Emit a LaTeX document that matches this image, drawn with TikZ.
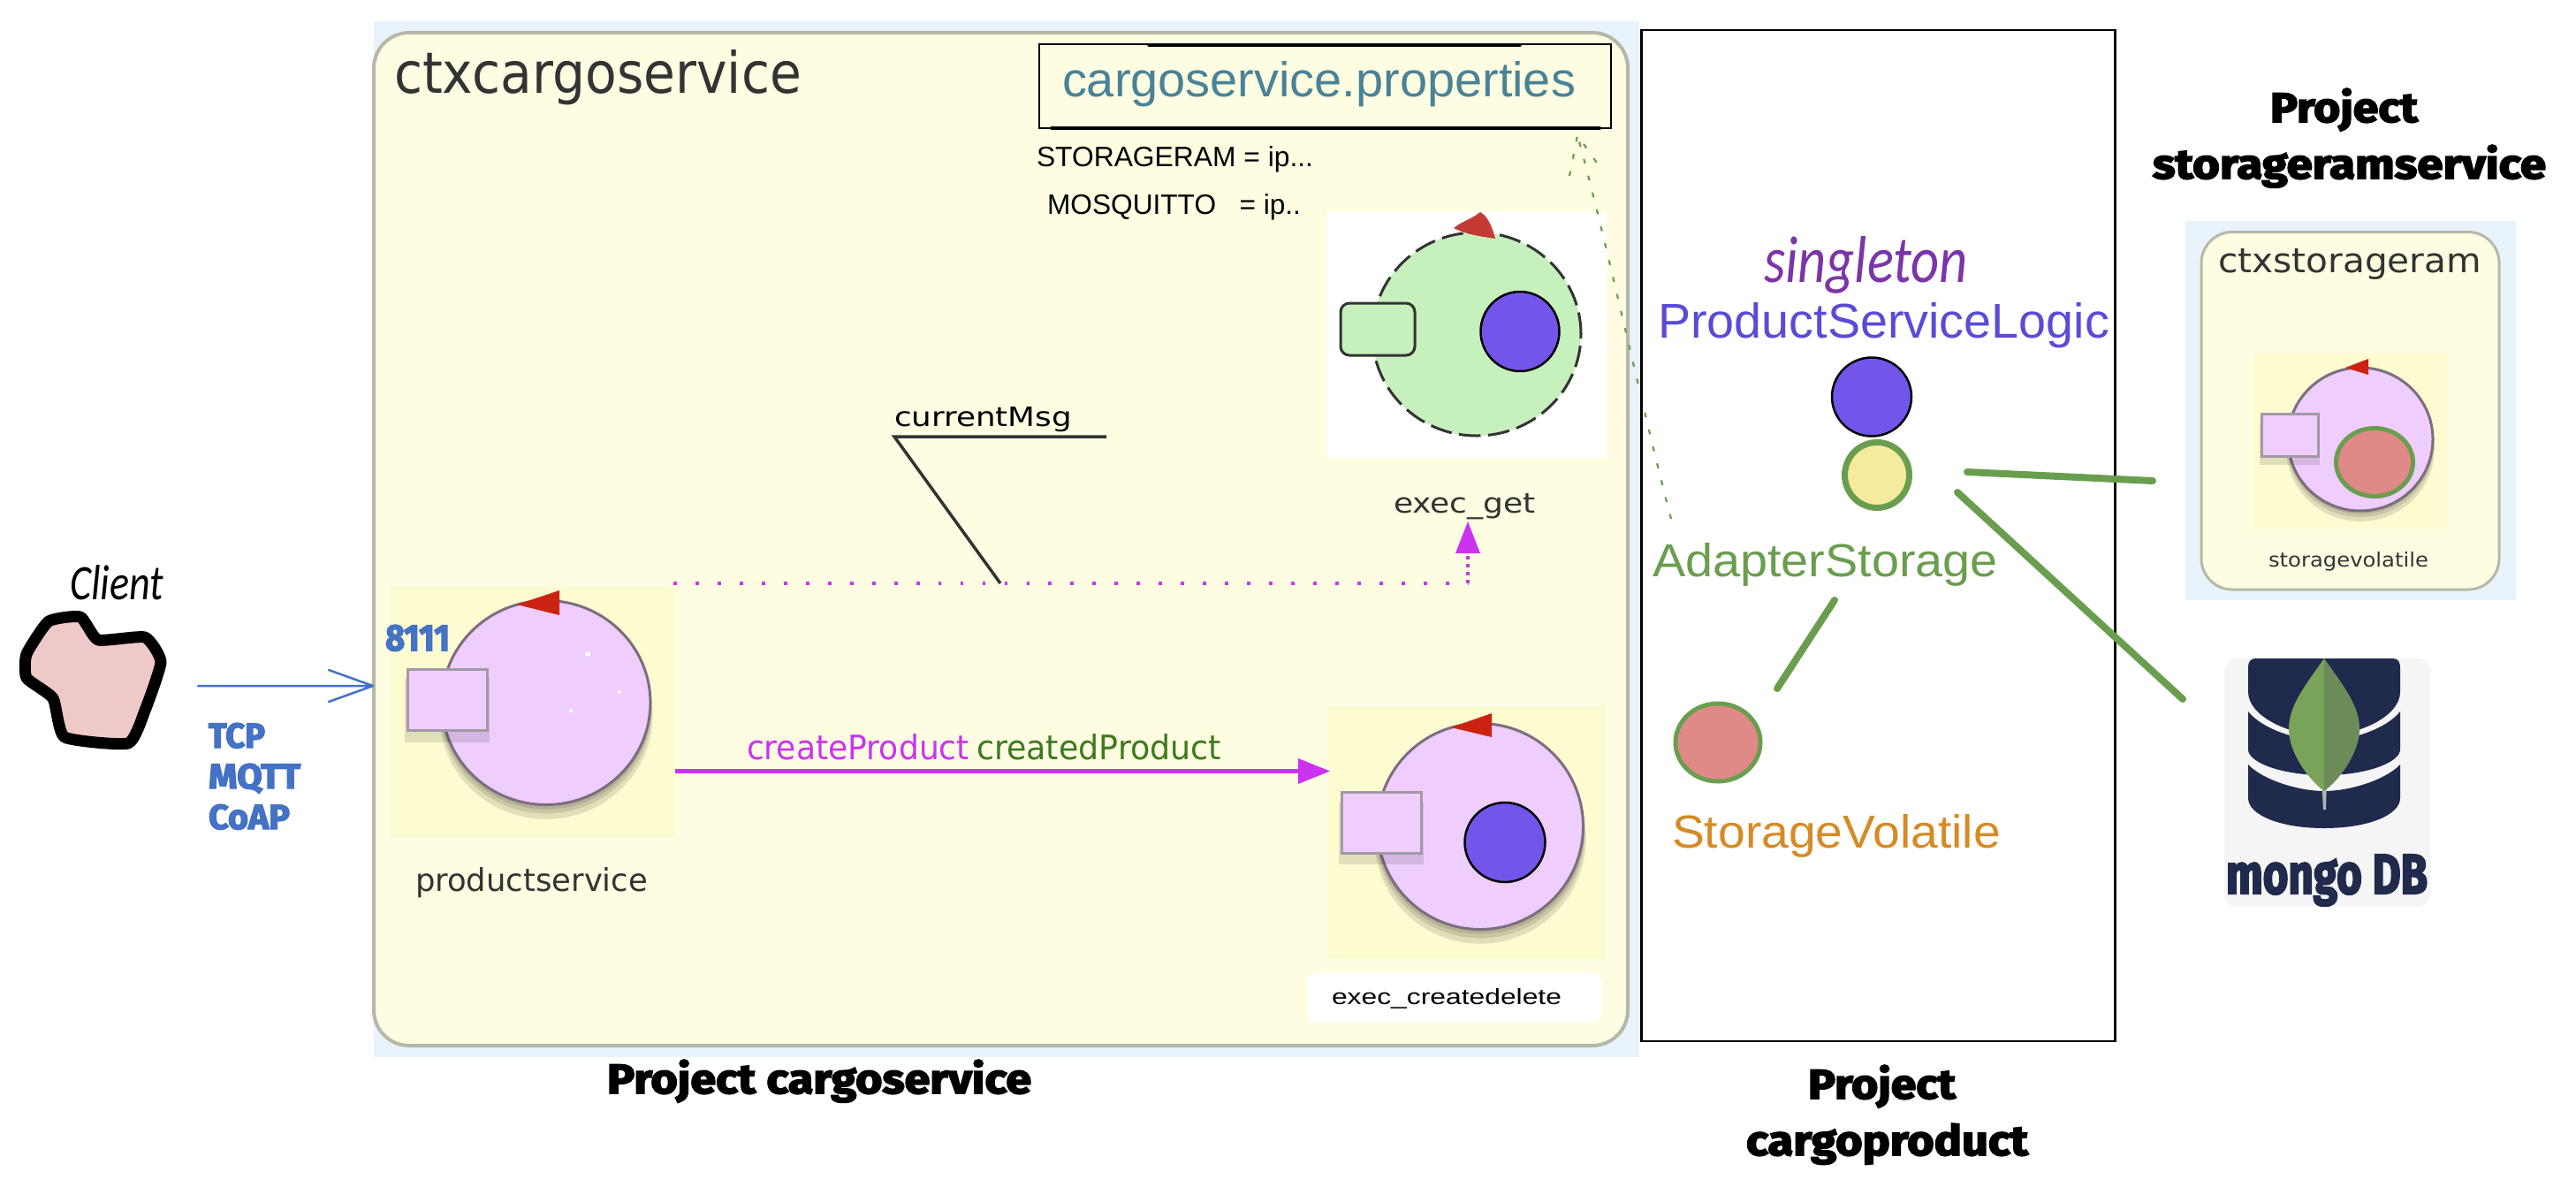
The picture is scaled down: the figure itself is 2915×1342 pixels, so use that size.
\documentclass[tikz,border=0pt]{standalone}
\usepackage{fontspec}
\usepackage{graphicx}
\usetikzlibrary{shapes.geometric,arrows.meta,calc}
\newfontfamily\ctxf{DejaVu Sans}
\newfontfamily\arialf{Liberation Sans}
\newfontfamily\titlebase[BoldFeatures={FakeBold=3.5}]{Fira Sans}
\newcommand{\titlef}{\titlebase\bfseries}
\newfontfamily\handf{Carlito}
\newdimen\pxu \pxu=0.01cm
\newcommand{\fit}[4]{\resizebox{#1\pxu}{#2\pxu}{\mbox{#3#4}}}
\definecolor{outerblue}{HTML}{E8F3FB}
\definecolor{ctxyellow}{HTML}{FEFDE2}
\definecolor{ctxedge}{HTML}{B4B9A8}
\definecolor{actorbg}{HTML}{FDFBD0}
\definecolor{actorpink}{HTML}{EFCDFC}
\definecolor{actoredge}{HTML}{7A6E80}
\definecolor{actorgreen}{HTML}{C6F0BC}
\definecolor{logicblue}{HTML}{7355EA}
\definecolor{logictext}{HTML}{5A4BD6}
\definecolor{adaptgreen}{HTML}{6A9E4F}
\definecolor{adaptyellow}{HTML}{F6EB9C}
\definecolor{storered}{HTML}{E08A87}
\definecolor{storetext}{HTML}{D68A26}
\definecolor{propteal}{HTML}{4A8296}
\definecolor{msgmag}{HTML}{CC33EE}
\definecolor{redtri}{HTML}{CC2211}
\definecolor{redblob}{HTML}{C43A35}
\definecolor{blueb}{HTML}{4472C4}
\definecolor{navy}{HTML}{1F2A4D}
\definecolor{blobpink}{HTML}{EFC8C8}
\definecolor{singlepurple}{HTML}{7B35A8}
\definecolor{createdgreen}{HTML}{3D7A1E}
\definecolor{darktxt}{HTML}{333333}
\definecolor{leafl}{HTML}{7AA35A}
\definecolor{leafr}{HTML}{6B8C58}
\tikzset{
  lbl/.style={inner sep=0pt,outer sep=0pt,anchor=base west},
  boxn/.style={inner sep=0pt,outer sep=0pt,rectangle},
  ell/.style={inner sep=0pt,outer sep=0pt,ellipse},
  actorc/.style={ell,fill=actorpink,draw=actoredge,line width=3\pxu},
  actorsq/.style={boxn,fill=actorpink,draw=actoredge!70,line width=3\pxu},
  bluec/.style={ell,fill=logicblue,draw=black,line width=2.5\pxu},
  greenline/.style={draw=adaptgreen,line width=8\pxu,line cap=round},
  magdot/.style={draw=msgmag,line width=4\pxu,dash pattern=on 1.1pt off 6pt},
  grdot/.style={draw=adaptgreen,line width=2.2\pxu,dash pattern=on 1.6pt off 4pt},
  shad/.style={fill=black,opacity=.11},
}
\begin{document}
\begin{tikzpicture}[x=0.01cm,y=-0.01cm]
\useasboundingbox (0,0) rectangle (2915,1342);
% context cargoservice
\node[boxn,fill=outerblue,minimum width=1432\pxu,minimum height=1172\pxu] (outer) at (1139,610) {};
\draw[fill=ctxyellow,draw=ctxedge,line width=4\pxu,rounded corners=40\pxu] (423,37) rectangle (1842,1183);
\node[lbl,text=darktxt] (ctxname) at (446,105) {\fit{461}{49}{\ctxf}{ctxcargoservice}};
% properties
\node[boxn,draw=black,line width=2.5\pxu,minimum width=647\pxu,minimum height=95\pxu] (props) at (1499.5,97.5) {};
\draw[line width=4\pxu,line cap=round] (1190,145) -- (1810,145);
\draw[line width=3.5\pxu,line cap=round] (1300,51) -- (1720,51);
\node[lbl,text=propteal] (propstxt) at (1202,109) {\fit{581}{40}{\arialf}{cargoservice.properties}};
\node[lbl] (storram) at (1173,188) {\fit{313}{23}{\arialf}{STORAGERAM = ip...}};
\node[lbl] (mosq) at (1185,242) {\fit{287}{23}{\arialf}{MOSQUITTO\ \ \ = ip..}};
% exec_get
\node[boxn,fill=white,minimum width=316\pxu,minimum height=278\pxu] (gbg) at (1660,379) {};
\node[ell,fill=actorgreen,draw=darktxt,line width=3\pxu,dash pattern=on 7pt off 2.4pt,minimum width=236\pxu,minimum height=230\pxu] (gcirc) at (1671,378) {};
\fill[redblob] (1645,258) .. controls (1655,250) and (1665,248) .. (1675,240) .. controls (1685,245) and (1690,262) .. (1692,270) .. controls (1680,268) and (1660,266) .. (1645,258) -- cycle;
\node[boxn,fill=actorgreen,draw=darktxt,line width=3\pxu,rounded corners=10\pxu,minimum width=84\pxu,minimum height=59\pxu] (gsq) at (1559,372.5) {};
\node[bluec,minimum width=89\pxu,minimum height=90\pxu] (gblue) at (1720,375) {};
\node[lbl,text=darktxt] (gname) at (1577,580) {\fit{161}{22}{\ctxf}{exec\_get}};
% productservice
\node[boxn,fill=actorbg,minimum width=322\pxu,minimum height=283\pxu] (pbg) at (603,805.5) {};
\foreach \d/\e in {14/8,9/4,5/2}{\fill[shad] (618,795+\d) ellipse [x radius=118+\e/3,y radius=115+\e/3];}
\node[actorc,minimum width=236\pxu,minimum height=231\pxu] (pcirc) at (618,795) {};
\fill[redtri] (585,684) -- (633,668) -- (633,696) -- cycle;
\fill[shad] (458,768) rectangle (554,840);
\node[actorsq,minimum width=90\pxu,minimum height=69\pxu] (psq) at (506,791.5) {};
\fill[white] (665,740) circle (3) (646,804) circle (2) (701,783) circle (2);
\node[lbl,text=blueb] (port) at (436,736) {\fit{73}{29}{\titlef}{8111}};
\node[lbl,text=darktxt] (pname) at (470,1008) {\fit{263}{27}{\ctxf}{productservice}};
% exec_createdelete
\node[boxn,fill=actorbg,minimum width=315\pxu,minimum height=285\pxu] (cbg) at (1660.5,942.5) {};
\foreach \d/\e in {14/8,9/4,5/2}{\fill[shad] (1675,935+\d) ellipse [x radius=117+\e/3,y radius=116+\e/3];}
\node[actorc,minimum width=233\pxu,minimum height=233\pxu] (ccirc) at (1675,935) {};
\fill[redtri] (1642,823) -- (1688,807) -- (1688,834) -- cycle;
\fill[shad] (1515,908) rectangle (1611,978);
\node[actorsq,minimum width=90\pxu,minimum height=69\pxu] (csq) at (1563,930.5) {};
\node[bluec,minimum width=91\pxu,minimum height=90\pxu] (cblue) at (1703,953) {};
\node[boxn,fill=white,rounded corners=12\pxu,minimum width=333\pxu,minimum height=57\pxu] (clab) at (1645.5,1128.5) {};
\node[lbl] (cname) at (1507,1136) {\fit{260}{18}{\arialf}{exec\_createdelete}};
% messages
\coordinate (mstart) at (764,872.5);
\coordinate (mend) at (1505,872.5);
\draw[draw=msgmag,line width=5\pxu] (mstart) -- (1470,872.5);
\fill[msgmag] (mend) -- (1469,858) -- (1469,887) -- cycle;
\node[lbl,text=msgmag] (create) at (845,859) {\fit{252}{29}{\ctxf}{createProduct}};
\node[lbl,text=createdgreen] (created) at (1105,859) {\fit{277}{29}{\ctxf}{createdProduct}};
\coordinate (dstart) at (762,660);
\coordinate (dcorner) at (1661,660);
\coordinate (dtip) at (1661,590);
\draw[magdot] (dstart) -- (dcorner);
\draw[draw=msgmag,line width=4\pxu,dash pattern=on 1.1pt off 1.5pt] (dcorner) -- (1661,625);
\fill[msgmag] (dtip) -- (1647,626) -- (1675,626) -- cycle;
\coordinate (ul1) at (1012,494);
\coordinate (ul2) at (1252,494);
\coordinate (dotjoin) at (1132,660);
\draw[draw=darktxt,line width=3.5\pxu] (ul2) -- (ul1) -- (dotjoin);
\node[lbl] (curr) at (1012,482) {\fit{201}{22}{\ctxf}{currentMsg}};
% green dotted arrow
\coordinate (adstart) at (1891,587);
\coordinate (adtip) at (1785,153);
\coordinate (adleft) at (1776,199);
\coordinate (adright) at (1811,190);
\draw[grdot] (adstart) .. controls (1860,470) and (1815,260) .. (adtip);
\draw[grdot] (adleft) -- (adtip) -- (adright);
% client
\node[lbl] (client) at (79,678) {\fit{106}{39}{\handf\itshape}{Client}};
\draw[fill=blobpink,draw=black,line width=13\pxu,line join=round] plot[smooth cycle,tension=.3] coordinates {(55,703) (91,698) (111,724) (164,721) (182,749) (164,804) (145,841) (73,834) (60,790) (30,767) (30,740)};
\coordinate (carr) at (224,776);
\coordinate (carrtip) at (422,776);
\draw[draw=blueb,line width=2.5\pxu,line cap=round,line join=round] (carr) -- (carrtip) (372,758) -- (carrtip) -- (372,794);
\node[lbl,text=blueb] (tcp) at (236,846) {\fit{64}{28}{\titlef}{TCP}};
\node[lbl,text=blueb] (mqtt) at (236,892) {\fit{104}{28}{\titlef}{MQTT}};
\node[lbl,text=blueb] (coap) at (236,938) {\fit{92}{28}{\titlef}{CoAP}};
\node[lbl] (pcs) at (687,1237) {\fit{480}{38}{\titlef}{Project cargoservice}};
% cargoproduct box
\node[boxn,draw=black,line width=2.5\pxu,minimum width=536\pxu,minimum height=1144\pxu] (cpbox) at (2125.5,606) {};
\node[lbl,text=singlepurple] (sing) at (1996,319) {\fit{231}{52}{\handf\itshape}{singleton}};
\node[lbl,text=logictext] (logic) at (1876,382) {\fit{511}{40}{\arialf}{ProductServiceLogic}};
\node[bluec,minimum width=90\pxu,minimum height=89\pxu] (lblue) at (2118,449) {};
\node[ell,fill=adaptyellow,draw=adaptgreen,line width=7\pxu,minimum width=73\pxu,minimum height=74\pxu] (ayel) at (2124,537.5) {};
\node[lbl,text=adaptgreen] (adapter) at (1870,652) {\fit{391}{38}{\arialf}{AdapterStorage}};
\node[ell,fill=storered,draw=adaptgreen,line width=5\pxu,minimum width=96\pxu,minimum height=88\pxu] (sred) at (1944,840) {};
\node[lbl,text=storetext] (volatile) at (1892,959) {\fit{372}{38}{\arialf}{StorageVolatile}};
\node[lbl] (pcp1) at (2046,1243) {\fit{167}{38}{\titlef}{Project}};
\node[lbl] (pcp2) at (1976,1307) {\fit{319}{36}{\titlef}{cargoproduct}};
% storageram
\node[lbl] (psr1) at (2569,138) {\fit{167}{38}{\titlef}{Project}};
\node[lbl] (psr2) at (2436,202) {\fit{445}{38}{\titlef}{storageramservice}};
\node[boxn,fill=outerblue,minimum width=374\pxu,minimum height=429\pxu] (souter) at (2660,464.5) {};
\draw[fill=ctxyellow,draw=ctxedge,line width=3\pxu,rounded corners=35\pxu] (2491,262.5) rectangle (2828,667);
\node[lbl,text=darktxt] (sctx) at (2510,308) {\fit{298}{27}{\ctxf}{ctxstorageram}};
\node[boxn,fill=actorbg,minimum width=220\pxu,minimum height=198\pxu] (sbg) at (2660,499) {};
\foreach \d/\e in {10/6,6/3,3/1}{\fill[shad] (2671,497+\d) ellipse [x radius=82+\e/3,y radius=81+\e/3];}
\node[actorc,minimum width=164\pxu,minimum height=162\pxu] (scirc) at (2671,497) {};
\fill[redtri] (2654,416) -- (2680,406) -- (2680,424) -- cycle;
\fill[shad] (2557,478) rectangle (2625,526);
\node[actorsq,minimum width=64\pxu,minimum height=48\pxu] (ssq) at (2591,492) {};
\node[ell,fill=storered,draw=adaptgreen,line width=5\pxu,minimum width=87\pxu,minimum height=77\pxu] (sred2) at (2687,523) {};
\node[lbl,text=darktxt] (sname) at (2567,641) {\fit{181}{17}{\ctxf}{storagevolatile}};
% mongo
\node[boxn,fill=black!4,rounded corners=14\pxu,minimum width=233\pxu,minimum height=281\pxu] (mbg) at (2633.5,885.5) {};
\fill[navy] (2552,745) -- (2708,745) .. controls (2714,745) and (2716,750) .. (2716,755) -- (2716,783) .. controls (2716,810) and (2670,832) .. (2630,832) .. controls (2590,832) and (2544,810) .. (2544,783) -- (2544,755) .. controls (2544,750) and (2546,745) .. (2552,745) -- cycle;
\fill[navy] (2544,805) .. controls (2560,825) and (2600,838) .. (2630,838) .. controls (2660,838) and (2700,825) .. (2716,805) -- (2716,848) .. controls (2716,862) and (2680,877) .. (2630,877) .. controls (2580,877) and (2544,862) .. (2544,848) -- cycle;
\fill[navy] (2544,865) .. controls (2560,882) and (2600,895) .. (2630,895) .. controls (2660,895) and (2700,882) .. (2716,865) -- (2716,903) .. controls (2716,922) and (2680,937) .. (2630,937) .. controls (2580,937) and (2544,922) .. (2544,903) -- cycle;
\fill[black!30] (2627,880) -- (2633,880) -- (2632,916) -- (2629,916) -- cycle;
\fill[leafl] (2630,745) .. controls (2605,780) and (2590,800) .. (2590,825) .. controls (2590,850) and (2610,880) .. (2630,895) -- cycle;
\fill[leafr] (2630,745) .. controls (2655,780) and (2670,800) .. (2670,825) .. controls (2670,850) and (2650,880) .. (2630,895) -- cycle;
\node[lbl,text=navy] (mongotxt) at (2519,1011) {\fit{228}{44}{\titlef}{mongo DB}};
% green connectors
\coordinate (g1a) at (2226,534);
\coordinate (g1b) at (2436,544);
\coordinate (g2a) at (2215,557);
\coordinate (g2b) at (2470,791);
\coordinate (g3a) at (2076,679);
\coordinate (g3b) at (2011,779);
\draw[greenline] (g1a) -- (g1b);
\draw[greenline] (g2a) -- (g2b);
\draw[greenline] (g3a) -- (g3b);
\end{tikzpicture}
\end{document}
